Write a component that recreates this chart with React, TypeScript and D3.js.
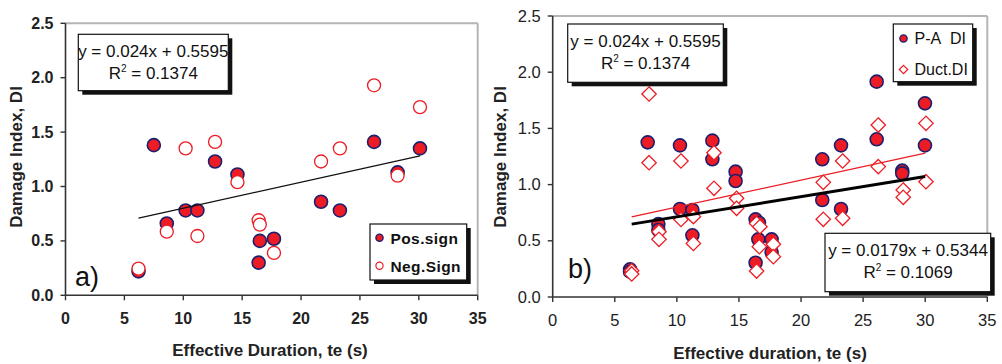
import React from "react";
import * as d3 from "d3";

// ---------- data ----------
const posX = [6.2, 7.5, 8.6, 10.2, 11.2, 12.7, 14.6, 16.5, 16.4, 17.7, 21.7, 23.3, 26.2, 28.2, 30.1];
const posY = [0.22, 1.38, 0.66, 0.78, 0.78, 1.23, 1.11, 0.50, 0.30, 0.52, 0.86, 0.78, 1.41, 1.13, 1.35];
const negX = [6.2, 8.6, 10.2, 11.2, 12.7, 14.6, 16.4, 16.5, 17.7, 21.7, 23.3, 26.2, 28.2, 30.1];
const negY = [0.245, 0.585, 1.35, 0.545, 1.41, 1.04, 0.69, 0.65, 0.39, 1.23, 1.35, 1.93, 1.10, 1.73];

const paX = [6.23, 6.23, 7.65, 8.51, 8.51, 10.25, 10.25, 11.25, 11.25, 12.86, 12.86, 14.73, 14.73, 16.34, 16.61, 16.56, 16.34, 17.63, 17.63, 21.71, 21.71, 23.22, 23.22, 26.09, 26.09, 28.15, 28.15, 29.98, 29.98];
const paY = [0.246, 0.225, 1.376, 0.649, 0.596, 0.783, 1.349, 0.774, 0.549, 1.391, 1.225, 1.115, 1.032, 0.691, 0.661, 0.513, 0.305, 0.513, 0.40, 1.225, 0.863, 1.349, 0.783, 1.916, 1.403, 1.124, 1.10, 1.723, 1.349];
const ductX = [6.36, 6.36, 7.76, 7.76, 8.56, 8.56, 10.33, 10.33, 11.33, 11.33, 12.99, 12.99, 14.81, 14.81, 16.42, 16.69, 16.64, 16.42, 17.77, 17.77, 21.79, 21.79, 23.35, 23.35, 26.22, 26.22, 28.23, 28.23, 30.06, 30.06];
const ductY = [0.234, 0.205, 1.806, 1.195, 0.581, 0.513, 1.21, 0.69, 0.715, 0.477, 1.284, 0.967, 0.878, 0.789, 0.655, 0.626, 0.448, 0.231, 0.469, 0.359, 1.02, 0.691, 1.21, 0.70, 1.53, 1.16, 0.952, 0.887, 1.545, 1.026];

const xTicks = [0, 5, 10, 15, 20, 25, 30, 35];
const yTicks = [0, 0.5, 1.0, 1.5, 2.0, 2.5];

const fitA = { slope: 0.024, intercept: 0.5595, r2: "0.1374", x0: 6.2, x1: 30.1 };
const fitRed = { slope: 0.024, intercept: 0.5595, x0: 6.36, x1: 30.0 };
const fitBlack = { slope: 0.0179, intercept: 0.5344, r2: "0.1069", x0: 6.36, x1: 30.0 };

const FONT = "'Liberation Sans', Arial, Helvetica, sans-serif";
const RED = "#ed1c24";
const NAVY = "#1c1f6e";
const AXIS = "#333";
const FRAME = "#b5b5b5";

function Box({ x, y, w, h }: { x: number; y: number; w: number; h: number }) {
  return (
    <g>
      <rect x={x + 4} y={y + 4} width={w} height={h} fill="#111" />
      <rect x={x} y={y} width={w} height={h} fill="#fff" stroke="#111" strokeWidth={1.2} />
    </g>
  );
}

function EqText({ cx, y1, y2, eq, r2 }: { cx: number; y1: number; y2: number; eq: string; r2: string }) {
  return (
    <g fontFamily={FONT} fontSize={17} fill="#111" textAnchor="middle">
      <text x={cx} y={y1}>{eq}</text>
      <text x={cx} y={y2}>
        R<tspan fontSize={10} dy={-7}>2</tspan>
        <tspan dy={7}>{" = " + r2}</tspan>
      </text>
    </g>
  );
}

function Axes({ x, y, bold, tickSize }: { x: d3.ScaleLinear<number, number>; y: d3.ScaleLinear<number, number>; bold: boolean; tickSize: number }) {
  const [x0, x1] = x.range();
  const [y0, y1] = y.range();
  const fw = bold ? "bold" : "normal";
  return (
    <g>
      <line x1={x0} y1={y1} x2={x1} y2={y1} stroke={FRAME} strokeWidth={2} />
      <line x1={x1} y1={y1} x2={x1} y2={y0} stroke={FRAME} strokeWidth={2} />
      <line x1={x0} y1={y0} x2={x1} y2={y0} stroke={AXIS} strokeWidth={1.6} />
      <line x1={x0} y1={y1} x2={x0} y2={y0} stroke={AXIS} strokeWidth={1.6} />
      {xTicks.map((t) => (
        <g key={"x" + t}>
          <line x1={x(t)} x2={x(t)} y1={y0} y2={y0 + 5} stroke={AXIS} strokeWidth={1.4} />
          <text x={x(t)} y={y0 + 29} textAnchor="middle" fontFamily={FONT} fontWeight={fw} fontSize={tickSize} fill="#222">{t}</text>
        </g>
      ))}
      {yTicks.map((t) => (
        <g key={"y" + t}>
          <line x1={x0 - 5} x2={x0} y1={y(t)} y2={y(t)} stroke={AXIS} strokeWidth={1.4} />
          <text x={x0 - 12} y={y(t) + 5.5} textAnchor="end" fontFamily={FONT} fontWeight={fw} fontSize={tickSize} fill="#222">{t.toFixed(1)}</text>
        </g>
      ))}
    </g>
  );
}

function diamond(cx: number, cy: number, r: number) {
  return `M${cx},${cy - r}L${cx + r},${cy}L${cx},${cy + r}L${cx - r},${cy}Z`;
}

export default function App() {
  // Panel a
  const xa = d3.scaleLinear().domain([0, 35]).range([65.5, 477.7]);
  const ya = d3.scaleLinear().domain([0, 2.5]).range([295.3, 23.3]);
  // Panel b
  const xb = d3.scaleLinear().domain([0, 35]).range([552.7, 987.3]);
  const yb = d3.scaleLinear().domain([0, 2.5]).range([297, 16]);

  const lineA = d3.line<number>().x((v) => xa(v)).y((v) => ya(fitA.slope * v + fitA.intercept));
  const lineRed = d3.line<number>().x((v) => xb(v)).y((v) => yb(fitRed.slope * v + fitRed.intercept));
  const lineBlack = d3.line<number>().x((v) => xb(v)).y((v) => yb(fitBlack.slope * v + fitBlack.intercept));

  return (
    <svg width={1002} height={364} style={{ position: "absolute", left: 0, top: 0, background: "#fff" }}>
      <rect width={1002} height={364} fill="#fff" />
      {/* ---------------- Panel a ---------------- */}
      <Axes x={xa} y={ya} bold={true} tickSize={16} />
      {posX.map((v, i) => (
        <circle key={"p" + i} cx={xa(v)} cy={ya(posY[i])} r={6.5} fill={RED} stroke={NAVY} strokeWidth={1.6} />
      ))}
      {negX.map((v, i) => (
        <circle key={"n" + i} cx={xa(v)} cy={ya(negY[i])} r={6.5} fill="#fff" stroke={RED} strokeWidth={1.3} />
      ))}
      <path d={lineA([fitA.x0, fitA.x1]) || ""} stroke="#111" strokeWidth={1.3} fill="none" />
      <text x={75} y={286} fontFamily={FONT} fontSize={27} fill="#111">a)</text>
      <Box x={78.3} y={34.3} w={150} h={56.4} />
      <EqText cx={153.3} y1={56.5} y2={78.5} eq="y = 0.024x + 0.5595" r2={fitA.r2} />
      <Box x={370} y={224} w={96.7} h={56} />
      <circle cx={379.5} cy={237.7} r={3.6} fill={RED} stroke={NAVY} strokeWidth={1.4} />
      <circle cx={379.5} cy={265.7} r={3.6} fill="#fff" stroke={RED} strokeWidth={1.2} />
      <g fontFamily={FONT} fontWeight="bold" fontSize={15.5} fill="#111">
        <text x={390.5} y={243.5} letterSpacing={0.4}>Pos.sign</text>
        <text x={390.5} y={271.5} letterSpacing={0.4}>Neg.Sign</text>
      </g>
      <text x={270} y={356} textAnchor="middle" fontFamily={FONT} fontWeight="bold" fontSize={17} fill="#222">Effective Duration, te (s)</text>
      <text transform="translate(22,157) rotate(-90)" textAnchor="middle" fontFamily={FONT} fontWeight="bold" fontSize={17} fill="#222">Damage Index, DI</text>

      {/* ---------------- Panel b ---------------- */}
      <Axes x={xb} y={yb} bold={false} tickSize={16.5} />
      {paX.map((v, i) => (
        <circle key={"pa" + i} cx={xb(v)} cy={yb(paY[i])} r={6.5} fill={RED} stroke={NAVY} strokeWidth={1.6} />
      ))}
      {ductX.map((v, i) => (
        <path key={"d" + i} d={diamond(xb(v), yb(ductY[i]), 7.2)} fill="#fff" stroke={RED} strokeWidth={1.3} />
      ))}
      <path d={lineRed([fitRed.x0, fitRed.x1]) || ""} stroke={RED} strokeWidth={1.3} fill="none" />
      <path d={lineBlack([fitBlack.x0, fitBlack.x1]) || ""} stroke="#000" strokeWidth={3} fill="none" />
      <text x={568} y={278} fontFamily={FONT} fontSize={27} fill="#111">b)</text>
      <Box x={567.7} y={24} w={155.6} h={58.3} />
      <EqText cx={645.5} y1={46.5} y2={69} eq="y = 0.024x + 0.5595" r2={fitA.r2} />
      <Box x={893.3} y={24} w={79.4} h={57.7} />
      <circle cx={903.5} cy={38.5} r={3.6} fill={RED} stroke={NAVY} strokeWidth={1.4} />
      <path d={diamond(903.5, 69.5, 4.2)} fill="#fff" stroke={RED} strokeWidth={1.2} />
      <g fontFamily={FONT} fontSize={16} fill="#111">
        <text x={914.5} y={44}>{"P-A\u00a0\u00a0DI"}</text>
        <text x={914.5} y={75}>Duct.DI</text>
      </g>
      <Box x={825} y={233.3} w={165.7} h={58.4} />
      <EqText cx={908} y1={255.5} y2={278} eq="y = 0.0179x + 0.5344" r2={fitBlack.r2} />
      <text x={770} y={359} textAnchor="middle" fontFamily={FONT} fontWeight="bold" fontSize={17} fill="#222">Effective duration, te (s)</text>
      <text transform="translate(506,157) rotate(-90)" textAnchor="middle" fontFamily={FONT} fontWeight="bold" fontSize={17} fill="#222">Damage Index, DI</text>
    </svg>
  );
}
